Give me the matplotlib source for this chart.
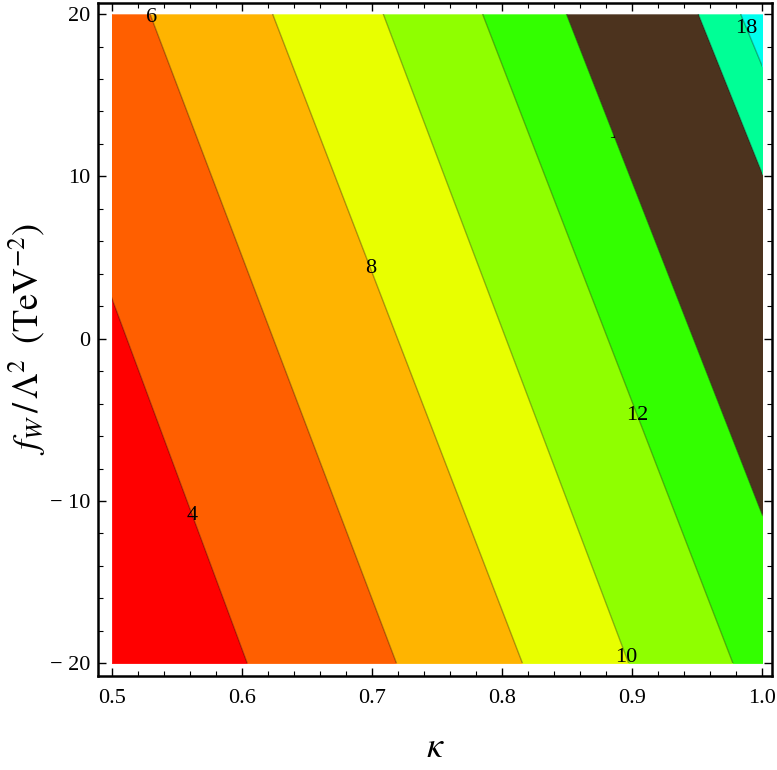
import matplotlib
matplotlib.use("Agg")
import matplotlib.pyplot as plt
from matplotlib.patches import Rectangle
import numpy as np

# ---------------- data ----------------
kappa_range = [0.5, 1.0]
fw_range = [-20.0, 20.0]

# contour levels and where each (straight) contour line crosses fw=-20 and fw=+20
levels = [4, 6, 8, 10, 12, 14, 16, 18]
kappa_at_fw_bottom = [0.6043, 0.7191, 0.8160, 0.8977, 0.9779, 1.0451, 1.1514, 1.1910]
kappa_at_fw_top = [0.4190, 0.5295, 0.6238, 0.7089, 0.7853, 0.8498, 0.9512, 0.9838]

# fill colours of the bands: <4, 4-6, 6-8, 8-10, 10-12, 12-14, 14-16, 16-18, >18
band_colors = ["#FF0000", "#FF5F00", "#FFB400", "#E8FF00", "#8FFF00",
               "#33FF00", "#4C331E", "#00FF96", "#00FFEE"]

# contour labels: level and fw position along its line
label_levels = [4, 6, 8, 10, 12, 14, 18]
label_fw = [-10.87, 19.8, 4.35, -19.64, -4.71, 12.67, 19.14]

x_ticks = [0.5, 0.6, 0.7, 0.8, 0.9, 1.0]
x_ticklabels = ["0.5", "0.6", "0.7", "0.8", "0.9", "1.0"]
y_ticks = [-20, -10, 0, 10, 20]
y_ticklabels = ["\u2212 20", "\u2212 10", "0", "10", "20"]

# ---------------- figure ----------------
plt.rcParams["font.family"] = ["Liberation Serif", "DejaVu Serif"]
plt.rcParams["mathtext.fontset"] = "stix"

fig = plt.figure(figsize=(7.77, 7.70), dpi=100)
ax = fig.add_axes([0.1265, 0.1227, 0.8677, 0.8738])

fw_span = np.array(fw_range)


def line_kappa(i, fw):
    kb, kt = kappa_at_fw_bottom[i], kappa_at_fw_top[i]
    return kb + (np.asarray(fw) - fw_range[0]) / (fw_range[1] - fw_range[0]) * (kt - kb)


clip = Rectangle((kappa_range[0], fw_range[0]), kappa_range[1] - kappa_range[0],
                 fw_range[1] - fw_range[0], transform=ax.transData,
                 facecolor="none", edgecolor="none")

n = len(levels)
for j, col in enumerate(band_colors):
    left = np.full(2, kappa_range[0]) if j == 0 else line_kappa(j - 1, fw_span)
    right = np.full(2, kappa_range[1] + 0.3) if j == n else line_kappa(j, fw_span)
    z = 2 if j >= 6 else 1
    coll = ax.fill_betweenx(fw_span, left, right, color=col, lw=0.3,
                            edgecolor=col, zorder=z)
    coll.set_clip_path(clip)

for i in range(n):
    ln, = ax.plot(line_kappa(i, fw_span), fw_span, color="black", alpha=0.3,
                  lw=1.0, zorder=3)
    ln.set_clip_path(clip)

for lev, fwl in zip(label_levels, label_fw):
    i = levels.index(lev)
    z = 1.5 if lev == 14 else 4
    xk = float(line_kappa(i, fwl))
    if lev == 14:
        xk += 0.0045
    ax.text(xk, fwl, str(lev), ha="center", va="center",
            fontsize=16, color="black", zorder=z)

ax.set_xlim(0.4897, 1.0083)
ax.set_ylim(-20.75, 20.70)

ax.set_xticks(x_ticks)
ax.set_xticklabels(x_ticklabels)
ax.set_yticks(y_ticks)
ax.set_yticklabels(y_ticklabels)
ax.set_xticks(np.arange(0.5, 1.0001, 0.02), minor=True)
ax.set_yticks(np.arange(-20, 20.001, 2), minor=True)

ax.tick_params(which="both", direction="in", top=True, right=True,
               labelsize=16, colors="black")
ax.tick_params(which="major", length=6, width=1.0)
ax.tick_params(which="minor", length=3.5, width=0.8)
ax.tick_params(axis="x", which="major", pad=10)
ax.tick_params(axis="y", which="major", pad=6)

for sp in ax.spines.values():
    sp.set_linewidth(1.8)
    sp.set_color("black")

ax.set_xlabel(r"$\kappa$", fontsize=26, va="center")
ax.xaxis.set_label_coords(0.5, -0.108)
ax.set_ylabel(r"$f_W\,/\,\Lambda^2\;\;(\mathrm{TeV}^{-2})$", fontsize=26,
              va="center")
ax.yaxis.set_label_coords(-0.105, 0.5)

fig.savefig("out.png", dpi=100)
